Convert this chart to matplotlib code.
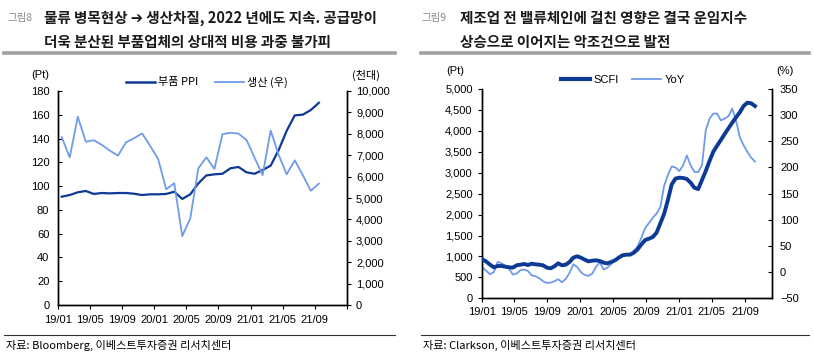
import numpy as np
import pandas as pd
import matplotlib
matplotlib.use("Agg")
import matplotlib.pyplot as plt
from matplotlib.lines import Line2D
from matplotlib.ticker import FuncFormatter

plt.rcParams['font.family'] = ['Liberation Sans', 'Noto Sans CJK KR', 'DejaVu Sans']
plt.rcParams['axes.unicode_minus'] = True

# ---- left chart data (monthly 19/01 ~ 21/09)
month_ticks = ['19/01', '19/05', '19/09', '20/01', '20/05', '20/09', '21/01', '21/05', '21/09', '']
ppi = [91.1, 92.5, 94.8, 95.9, 93.4, 94.2, 93.9, 94.2, 94.2, 93.6, 92.5, 93.1, 93.1,
       93.4, 95.3, 89.2, 93.1, 102.3, 109.0, 109.9, 110.4, 115.0, 116.1, 111.6, 110.4,
       113.5, 117.2, 130.4, 146.6, 159.5, 160.1, 164.0, 170.1]
production = [7840, 6900, 8800, 7630, 7700, 7480, 7210, 6980, 7600, 7790, 8020, 7440,
              6820, 5410, 5690, 3220, 4050, 6390, 6900, 6360, 7980, 8050, 8010, 7710,
              6880, 6070, 8150, 7010, 6110, 6760, 6070, 5340, 5670]

# ---- right chart data (bi-weekly SCFI, 2019-01-04 ~ 2021-10-08)
scfi_dates = pd.date_range('2019-01-04', periods=73, freq='14D')
scfi = [931, 875, 803, 740, 772, 772, 756, 740, 732, 788, 803, 819, 795, 827, 811, 803,
        788, 732, 716, 764, 835, 788, 803, 867, 971, 1003, 971, 923, 883, 899, 907, 891,
        851, 835, 867, 907, 971, 1026, 1042, 1042, 1090, 1170, 1289, 1393, 1424, 1464,
        1568, 1790, 2020, 2350, 2720, 2860, 2882, 2874, 2850, 2762, 2640, 2610, 2826,
        3041, 3280, 3503, 3646, 3782, 3925, 4060, 4196, 4323, 4443, 4594, 4674, 4658, 4594]
yoy = [8.7, 2.3, -4, 0, 19.5, 17, 12.5, 6.8, -4.7, -2.8, 3.6, 4.9, 2.3, -6, -7.9, -11.7,
       -17.4, -20.6, -20, -17.4, -13.6, -19.3, -13, -1.5, 15, 10, 0, -5.3, -7.2, -2.8, 10,
       18.9, 4.9, 8.7, 15.1, 23.4, 27.8, 34.2, 32.9, 34.2, 40.6, 49.5, 66, 84.5, 94, 104,
       112, 124.6, 165, 186, 202, 200, 193, 204, 223, 204, 191.5, 191.5, 204, 271, 293.5,
       303, 303, 290, 293.5, 298, 312.6, 290, 258, 242.5, 229.7, 218.9, 211.3]
date_ticks = ['2019-01-01', '2019-05-01', '2019-09-01', '2020-01-01', '2020-05-01',
              '2020-09-01', '2021-01-01', '2021-05-01', '2021-09-01']
date_labels = ['19/01', '19/05', '19/09', '20/01', '20/05', '20/09', '21/01', '21/05', '21/09']

dark = '#0d3a94'
light = '#6f9be8'
W, H = 814, 356
fig = plt.figure(figsize=(W / 100, H / 100), dpi=100)

comma = FuncFormatter(lambda v, p: f'{v:,.0f}')
kor = ['Noto Sans CJK KR', 'DejaVu Sans']


def fx(x):
    return x / W


def fy(y):
    return 1 - y / H


def style(ax):
    ax.spines['top'].set_visible(False)
    for s in ['left', 'bottom', 'right']:
        ax.spines[s].set_linewidth(1.0)
        ax.spines[s].set_color('black')
    ax.tick_params(labelsize=8, length=3, width=0.8, colors='black')


# ---------------- left chart
ax1 = fig.add_axes([fx(57.7), fy(305), (347 - 57.7) / W, (305 - 91) / H])
x = np.arange(len(ppi)) + 0.5
ax1.plot(x, ppi, color=dark, lw=1.6, label='부품 PPI')
ax1.set_xlim(0, 36)
ax1.set_ylim(0, 180)
ax1.set_yticks(range(0, 181, 20))
ax1.set_xticks(range(0, 37, 4))
ax1.set_xticklabels(month_ticks)
ax1b = ax1.twinx()
ax1b.plot(x, production, color=light, lw=1.3, label='생산 (우)')
ax1b.set_ylim(0, 10000)
ax1b.set_yticks(range(0, 10001, 1000))
ax1b.yaxis.set_major_formatter(comma)
for a in (ax1, ax1b):
    style(a)
ax1.tick_params(axis='y', direction='in', pad=6)
ax1.tick_params(axis='x', direction='out', pad=4)
fig.text(fx(40), fy(75), '(Pt)', fontsize=8, ha='center', va='center')
fig.text(fx(366), fy(75), '(천대)', fontsize=8, ha='center', va='center', family=kor)
fig.legend(handles=[Line2D([], [], color=dark, lw=1.8), Line2D([], [], color=light, lw=1.3)],
           labels=['부품 PPI', '생산 (우)'], loc='center', bbox_to_anchor=(fx(207), fy(82)),
           ncol=2, frameon=False, fontsize=8, handlelength=2.6, columnspacing=1.5,
           handletextpad=0.3, prop={'family': kor, 'size': 8})

# ---------------- right chart
ax2 = fig.add_axes([fx(481.7), fy(298.3), (771.7 - 481.7) / W, (298.3 - 89) / H])
ax2.plot(scfi_dates, scfi, color=dark, lw=2.8, zorder=3)
ax2.set_ylim(0, 5000)
ax2.set_yticks(range(0, 5001, 500))
ax2.yaxis.set_major_formatter(comma)
ax2.set_xlim(pd.Timestamp('2019-01-01'), pd.Timestamp('2021-12-09'))
ax2.set_xticks(pd.to_datetime(date_ticks))
ax2.set_xticklabels(date_labels)
ax2b = ax2.twinx()
ax2b.plot(scfi_dates, yoy, color=light, lw=1.3, zorder=2)
ax2b.set_ylim(-50, 350)
ax2b.set_yticks(range(-50, 351, 50))
ax2.set_zorder(ax2b.get_zorder() + 1)
ax2.patch.set_visible(False)
for a in (ax2, ax2b):
    style(a)
ax2b.tick_params(axis='y', direction='in', pad=6)
fig.text(fx(455), fy(71), '(Pt)', fontsize=8, ha='center', va='center')
fig.text(fx(785), fy(71), '(%)', fontsize=8, ha='center', va='center')
fig.legend(handles=[Line2D([], [], color=dark, lw=3), Line2D([], [], color=light, lw=1.3)],
           labels=['SCFI', 'YoY'], loc='center', bbox_to_anchor=(fx(623), fy(80)),
           ncol=2, frameon=False, fontsize=8, handlelength=2.6, columnspacing=1.2,
           handletextpad=0.3)

# ---------------- titles, rules, sources
panels = [
    (4, 395, 8, 44, '그림8', ['물류 병목현상 ➔ 생산차질, 2022 년에도 지속. 공급망이',
                               '더욱 분산된 부품업체의 상대적 비용 과중 불가피'],
     '자료: Bloomberg, 이베스트투자증권 리서치센터'),
    (421, 809, 422, 460, '그림9', ['제조업 전 밸류체인에 걸친 영향은 결국 운임지수',
                                    '상승으로 이어지는 악조건으로 발전'],
     '자료: Clarkson, 이베스트투자증권 리서치센터'),
]
for x0, x1, xl, xt, tag, lines, src in panels:
    fig.text(fx(xl), fy(18), tag, fontsize=7.5, color='#8a8a8a', va='center', family=kor)
    for j, t in enumerate(lines):
        fig.text(fx(xt), fy(18 + j * 24), t, fontsize=10.5, weight='bold', color='#1a1a1a',
                 va='center', family=kor)
    fig.add_artist(Line2D([fx(x0), fx(x1)], [fy(53), fy(53)], color='#a0a0a0', lw=2.6))
    fig.add_artist(Line2D([fx(x0), fx(x1)], [fy(335), fy(335)], color='#333333', lw=0.8))
    fig.text(fx(x0 + 2), fy(345), src, fontsize=8, va='center', family=kor)

fig.savefig('out.png', dpi=100)
